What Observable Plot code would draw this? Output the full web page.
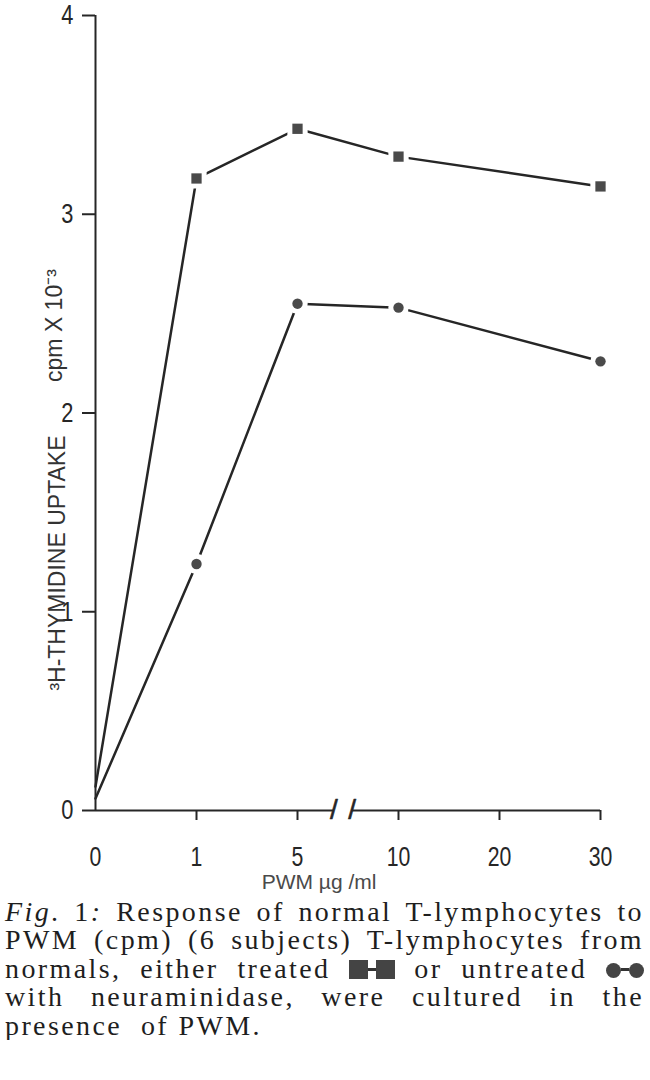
<!DOCTYPE html>
<html>
<head>
<meta charset="utf-8">
<script src="https://cdn.jsdelivr.net/npm/d3@7"></script>
<script src="https://cdn.jsdelivr.net/npm/@observablehq/plot@0.6"></script>
<style>
  html, body { margin: 0; padding: 0; background: #fff; }
  #chart { width: 650px; height: 895px; }
  .cap {
    font-family: "Liberation Serif", "Times New Roman", serif;
    font-size: 28px;
    line-height: 28.4px;
    color: #1e1e1e;
    letter-spacing: 2.4px;
    padding: 0 6px 0 5px;
    margin-top: 3px;
  }
  .j { text-align: justify; text-align-last: justify; }
  .sq { display: inline-block; width: 19px; height: 19px; background: #444; vertical-align: -1px; }
  .ln { display: inline-block; width: 8px; height: 3px; background: #333; vertical-align: 7px; }
  .ci { display: inline-block; width: 15px; height: 15px; border-radius: 50%; background: #444; vertical-align: 0px; }
  .sym { white-space: nowrap; letter-spacing: 0; }
</style>
</head>
<body>
<div id="chart"></div>
<div class="cap">
  <div class="j"><i>Fig</i>. 1<i>:</i> Response of normal T-lymphocytes to</div>
  <div class="j">PWM (cpm) (6 subjects) T-lymphocytes from</div>
  <div class="j">normals, either treated <span class="sym"><span class="sq"></span><span class="ln"></span><span class="sq"></span></span> or untreated <span class="sym"><span class="ci"></span><span class="ln"></span><span class="ci"></span></span></div>
  <div class="j">with neuraminidase, were cultured in the</div>
  <div>presence&nbsp; of PWM.</div>
</div>
<script>
// Tick labels of the x axis (PWM µg/ml), placed at equal steps
const doseLabels = ["0", "1", "5", "10", "20", "30"];
// Doses at which values were measured
const measuredDoses = ["0", "1", "5", "10", "30"];
// 3H-thymidine uptake, cpm x 10^-3
const treated = [0.12, 3.18, 3.43, 3.29, 3.14];    // squares: treated with neuraminidase
const untreated = [0.06, 1.24, 2.55, 2.53, 2.26];  // circles: untreated
const yTicks = [0, 1, 2, 3, 4];
// Axis break between "5" and "10" (in index units)
const axisBreak = [2.36, 2.54];

const rows = (vals) => measuredDoses.map((d, i) => ({dose: d, idx: doseLabels.indexOf(d), v: vals[i]}));
const tRows = rows(treated);
const uRows = rows(untreated);

const sans = '"Liberation Sans", Arial, sans-serif';
const ink = "#262626";

const chart = Plot.plot({
  width: 650,
  height: 895,
  marginLeft: 95,
  marginRight: 50,
  marginTop: 15,
  marginBottom: 85,
  x: {type: "linear", domain: [0, doseLabels.length - 1], axis: null},
  y: {domain: [0, 4], axis: null},
  style: {fontFamily: sans, color: ink, background: "white", overflow: "visible"},
  marks: [
    // y axis
    Plot.axisY({ticks: yTicks, tickFormat: (d) => String(d), tickSize: 13, tickPadding: 9, fontSize: 28, strokeWidth: 2, label: null, stroke: ink}),
    Plot.ruleX([0], {y1: 0, y2: 4, stroke: ink, strokeWidth: 2}),
    // x axis: ticks (not at origin) and labels
    Plot.axisX({ticks: d3.range(1, doseLabels.length), tickSize: 10, tickFormat: () => "", label: null, strokeWidth: 2, stroke: ink}),
    Plot.axisX({ticks: d3.range(0, doseLabels.length), tickSize: 0, tickPadding: 36, tickFormat: (i) => doseLabels[i], fontSize: 28, label: null}),
    // x axis line with a break
    Plot.ruleY([0], {x1: 0, x2: axisBreak[0], stroke: ink, strokeWidth: 2}),
    Plot.ruleY([0], {x1: axisBreak[1], x2: doseLabels.length - 1, stroke: ink, strokeWidth: 2}),
    Plot.text(axisBreak, {x: (d) => d, y: 0, text: () => "/", fontSize: 28, fill: ink, stroke: ink, strokeWidth: 0.6, lineAnchor: "middle"}),
    // axis titles
    Plot.text(["PWM µg /ml"], {frameAnchor: "bottom", dy: 78, dx: -29, fontSize: 21, fill: "#4a4a4a", ariaLabel: "xtitle"}),
    Plot.text(["³H-THYMIDINE UPTAKE"], {frameAnchor: "left", y: [1.245], dx: -38, rotate: -90, fontSize: 23, fill: "#333", textAnchor: "middle", lineAnchor: "middle", ariaLabel: "ytitle"}),
    Plot.text(["cpm X 10⁻³"], {frameAnchor: "left", y: [2.44], dx: -41, rotate: -90, fontSize: 23, fill: "#333", textAnchor: "middle", lineAnchor: "middle", ariaLabel: "ytitle"}),
    // series
    Plot.line(tRows, {x: "idx", y: "v", stroke: "#262626", strokeWidth: 2.5}),
    Plot.line(uRows, {x: "idx", y: "v", stroke: "#262626", strokeWidth: 2.5}),
    Plot.dot(tRows.filter((d) => d.dose !== "0"), {x: "idx", y: "v", symbol: "square", r: 5.8, fill: "#4a4a4a", stroke: "white", strokeWidth: 10, paintOrder: "stroke"}),
    Plot.dot(uRows.filter((d) => d.dose !== "0"), {x: "idx", y: "v", symbol: "circle", r: 5.2, fill: "#4a4a4a", stroke: "white", strokeWidth: 10, paintOrder: "stroke"})
  ]
});
// condense the sans-serif tick labels horizontally, like the narrow typeface of the original
const squeeze = (label, s) => chart.querySelectorAll(`g[aria-label="${label}"] text`).forEach((t) => {
  const tr = t.getAttribute("transform");
  if (tr) t.setAttribute("transform", tr + ` scale(${s},1)`);
});
squeeze("y-axis tick label", 0.78);
squeeze("x-axis tick label", 0.76);
squeeze("xtitle", 0.92);
chart.querySelectorAll('g[aria-label="ytitle"] text').forEach((t) => t.setAttribute("letter-spacing", "2.6"));
document.getElementById("chart").appendChild(chart);
</script>
</body>
</html>
